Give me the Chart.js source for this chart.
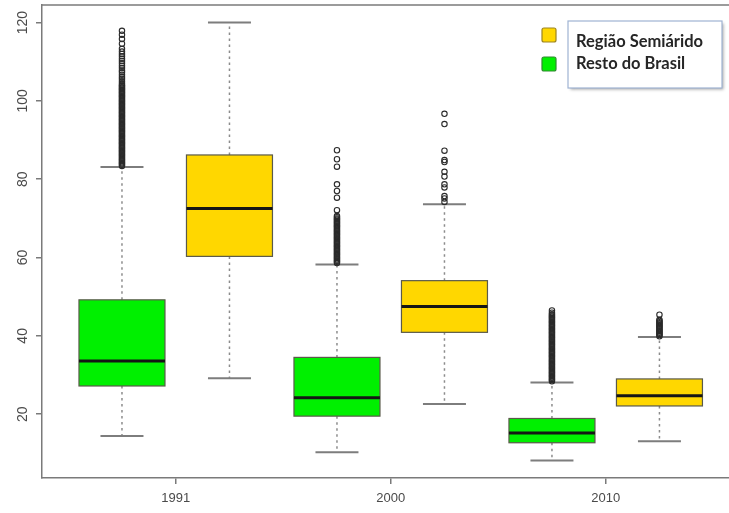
<!DOCTYPE html>
<html>
<head>
<meta charset="utf-8">
<title>Boxplot 1991 / 2000 / 2010</title>
<script src="https://cdn.jsdelivr.net/npm/chart.js@4/dist/chart.umd.min.js"></script>
<style>
  html, body { margin: 0; padding: 0; background: #ffffff; overflow: hidden; }
  #wrap { width: 729px; height: 513px; }
  canvas { display: block; }
</style>
</head>
<body>
<div id="wrap"><canvas id="c" width="729" height="513"></canvas></div>
<script>
// Census years shown on the x axis
const years = ['1991', '2000', '2010'];
const yTickValues = [20, 40, 60, 80, 100, 120];

// Região Semiárido: five-number summaries per year
const semiMin = [29.2, 22.6, 13.1];
const semiQ1  = [60.3, 40.9, 22.1];
const semiMed = [72.5, 47.5, 24.7];
const semiQ3  = [86.2, 54.1, 29.0];
const semiMax = [120.0, 73.6, 39.7];

// Resto do Brasil: five-number summaries per year
const restoMin = [14.4, 10.3, 8.2];
const restoQ1  = [27.2, 19.5, 12.7];
const restoMed = [33.6, 24.2, 15.2];
const restoQ3  = [49.2, 34.5, 18.9];
const restoMax = [83.1, 58.2, 28.1];

// Outliers beyond the upper whiskers
const semiOut1991 = [];
const semiOut2000 = [96.7, 94.1, 87.3, 84.9, 84.4, 81.9, 80.7, 78.7, 77.9, 75.7, 75.1, 74.2];
const semiOut2010 = [45.4, 44.1, 43.8, 43.5, 43.2, 42.9, 42.6, 42.3, 42.0, 41.7, 41.4,
  41.1, 40.8, 40.5, 40.2, 39.9];

const restoOut1991 = [117.9, 116.9, 115.8, 114.6, 113.3, 112.6, 112.0, 111.4, 110.8, 110.2,
  109.6, 109.0, 108.4, 107.8, 107.3, 106.7, 106.1, 105.6, 105.0, 104.5,
  104.1, 103.8, 103.5, 103.2, 102.9, 102.6, 102.3, 102.0, 101.7, 101.4, 101.1, 100.8,
  100.5, 100.2, 99.9, 99.6, 99.3, 99.0, 98.7, 98.4, 98.1, 97.8, 97.5, 97.2, 96.9, 96.6,
  96.3, 96.0, 95.7, 95.4, 95.1, 94.8, 94.5, 94.2, 93.9, 93.6, 93.3, 93.0, 92.7, 92.4,
  92.1, 91.8, 91.5, 91.2, 90.9, 90.6, 90.3, 90.0, 89.7, 89.4, 89.1, 88.8, 88.5, 88.2,
  87.9, 87.6, 87.3, 87.0, 86.7, 86.4, 86.1, 85.8, 85.5, 85.2, 84.9, 84.6, 84.3, 84.0,
  83.7, 83.4];
const restoOut2000 = [87.4, 85.1, 83.2, 78.7, 77.0, 75.3, 72.1, 70.6, 70.3, 70.0, 69.7,
  69.4, 69.1, 68.8, 68.5, 68.2, 67.9, 67.6, 67.3, 67.0, 66.7, 66.4, 66.1, 65.8, 65.5,
  65.2, 64.9, 64.6, 64.3, 64.0, 63.7, 63.4, 63.1, 62.8, 62.5, 62.2, 61.9, 61.6, 61.3,
  61.0, 60.7, 60.4, 60.1, 59.8, 59.5, 59.2, 58.9, 58.6];
const restoOut2010 = [46.5, 45.9, 45.5, 45.2, 44.9, 44.6, 44.3, 44.0, 43.7, 43.4, 43.1,
  42.8, 42.5, 42.2, 41.9, 41.6, 41.3, 41.0, 40.7, 40.4, 40.1, 39.8, 39.5, 39.2, 38.9,
  38.6, 38.3, 38.0, 37.7, 37.4, 37.1, 36.8, 36.5, 36.2, 35.9, 35.6, 35.3, 35.0, 34.7,
  34.4, 34.1, 33.8, 33.5, 33.2, 32.9, 32.6, 32.3, 32.0, 31.7, 31.4, 31.1, 30.8, 30.5,
  30.2, 29.9, 29.6, 29.3, 29.0, 28.7, 28.4];

const semiOut = [semiOut1991, semiOut2000, semiOut2010];
const restoOut = [restoOut1991, restoOut2000, restoOut2010];

const YELLOW = '#FFD700';
const GREEN = '#00F000';

// Each year holds two boxes: Resto do Brasil on the left, Semiárido on the right
const groups = [
  { name: 'Resto do Brasil', color: GREEN, offset: 1, min: restoMin, q1: restoQ1, med: restoMed, q3: restoQ3, max: restoMax, out: restoOut },
  { name: 'Região Semiárido', color: YELLOW, offset: 2, min: semiMin, q1: semiQ1, med: semiMed, q3: semiQ3, max: semiMax, out: semiOut }
];
const boxPos = (g, i) => 2 * i + g.offset;
const tickPos = years.map((_, i) => 2 * i + 1.5);

const BOX_W = 0.8;
const CAP_W = 0.4;

const outlierSets = groups.map(g => ({
  type: 'scatter',
  label: g.name,
  data: g.out.flatMap((arr, i) => arr.map(v => ({ x: boxPos(g, i), y: v }))),
  pointStyle: 'circle',
  pointRadius: 2.7,
  pointBorderWidth: 1.1,
  pointBorderColor: '#2a2a2a',
  pointBackgroundColor: 'rgba(0,0,0,0)',
  pointHoverRadius: 2.7
}));

// Boxes, whiskers and medians, placed through the chart scales
const boxPlugin = {
  id: 'boxes',
  beforeDatasetsDraw(chart) {
    const { ctx, scales: { x, y } } = chart;
    ctx.save();
    groups.forEach(g => {
      years.forEach((_, i) => {
        const c = boxPos(g, i);
        const xc = x.getPixelForValue(c);
        const xl = x.getPixelForValue(c - BOX_W / 2);
        const xr = x.getPixelForValue(c + BOX_W / 2);
        const cl = x.getPixelForValue(c - CAP_W / 2);
        const cr = x.getPixelForValue(c + CAP_W / 2);
        const yMin = y.getPixelForValue(g.min[i]);
        const yQ1 = y.getPixelForValue(g.q1[i]);
        const yMed = y.getPixelForValue(g.med[i]);
        const yQ3 = y.getPixelForValue(g.q3[i]);
        const yMax = y.getPixelForValue(g.max[i]);

        // dashed whiskers
        ctx.strokeStyle = '#8c8c8c';
        ctx.lineWidth = 1.5;
        ctx.setLineDash([2.5, 3.5]);
        ctx.beginPath();
        ctx.moveTo(xc, yQ3); ctx.lineTo(xc, yMax);
        ctx.moveTo(xc, yQ1); ctx.lineTo(xc, yMin);
        ctx.stroke();
        ctx.setLineDash([]);

        // whisker caps
        ctx.strokeStyle = '#7d7d7d';
        ctx.lineWidth = 2;
        ctx.beginPath();
        ctx.moveTo(cl, yMax); ctx.lineTo(cr, yMax);
        ctx.moveTo(cl, yMin); ctx.lineTo(cr, yMin);
        ctx.stroke();

        // box
        ctx.fillStyle = g.color;
        ctx.fillRect(xl, yQ3, xr - xl, yQ1 - yQ3);
        ctx.strokeStyle = '#5a5a4a';
        ctx.lineWidth = 1.2;
        ctx.strokeRect(xl, yQ3, xr - xl, yQ1 - yQ3);

        // median
        ctx.strokeStyle = '#151515';
        ctx.lineWidth = 3;
        ctx.beginPath();
        ctx.moveTo(xl, yMed); ctx.lineTo(xr, yMed);
        ctx.stroke();
      });
    });
    ctx.restore();
  },
  afterDraw(chart) {
    const { ctx, chartArea, scales: { y } } = chart;
    ctx.save();
    // top frame line
    ctx.strokeStyle = '#7a7a7a';
    ctx.lineWidth = 1.5;
    ctx.beginPath();
    ctx.moveTo(chartArea.left, chartArea.top);
    ctx.lineTo(chartArea.right, chartArea.top);
    ctx.stroke();

    // rotated y tick labels
    ctx.fillStyle = '#4a4a4a';
    ctx.font = '14px "Liberation Sans", Arial, sans-serif';
    ctx.textAlign = 'center';
    ctx.textBaseline = 'middle';
    yTickValues.forEach(v => {
      const py = y.getPixelForValue(v);
      ctx.save();
      ctx.translate(chartArea.left - 19, py);
      ctx.rotate(-Math.PI / 2);
      ctx.fillText(String(v), 0, 0);
      ctx.restore();
    });

    // legend
    const swatches = [groups[1], groups[0]];
    const sx = 542, sTop = [28, 57], sSize = 14;
    swatches.forEach((g, k) => {
      ctx.beginPath();
      ctx.roundRect(sx, sTop[k], sSize, sSize, 2);
      ctx.fillStyle = g.color;
      ctx.fill();
      ctx.strokeStyle = k === 0 ? '#9c8420' : '#2f8a2f';
      ctx.lineWidth = 1.2;
      ctx.stroke();
    });
    ctx.save();
    ctx.shadowColor = 'rgba(0,0,0,0.35)';
    ctx.shadowBlur = 3;
    ctx.shadowOffsetX = 1.5;
    ctx.shadowOffsetY = 1.5;
    ctx.fillStyle = '#ffffff';
    ctx.fillRect(568, 21, 154, 67);
    ctx.restore();
    ctx.strokeStyle = '#9fb3d3';
    ctx.lineWidth = 1.2;
    ctx.strokeRect(568, 21, 154, 67);
    ctx.fillStyle = '#262626';
    ctx.font = 'bold 16.5px Lato, "Open Sans", sans-serif';
    ctx.textAlign = 'left';
    ctx.textBaseline = 'middle';
    ctx.fillText(swatches[0].name, 576, 42);
    ctx.fillText(swatches[1].name, 576, 64);
    ctx.restore();
  }
};

new Chart(document.getElementById('c'), {
  type: 'scatter',
  data: { datasets: outlierSets },
  options: {
    responsive: false,
    animation: false,
    devicePixelRatio: 1,
    layout: { autoPadding: false, padding: { top: 5, right: 0, left: 0, bottom: 0 } },
    plugins: { legend: { display: false }, tooltip: { enabled: false } },
    scales: {
      x: {
        type: 'linear',
        min: 0.256,
        max: 6.647,
        afterBuildTicks(scale) { scale.ticks = tickPos.map(v => ({ value: v })); },
        afterFit(scale) {
          scale.height = 35;
          scale.paddingLeft = 0;
          scale.paddingRight = 0;
        },
        grid: { drawOnChartArea: false, drawTicks: true, tickLength: 6, tickColor: '#7a7a7a', lineWidth: 1.5 },
        border: { color: '#7a7a7a', width: 1.5 },
        ticks: {
          autoSkip: false,
          maxRotation: 0,
          padding: 7,
          color: '#4a4a4a',
          font: { family: '"Liberation Sans", Arial, sans-serif', size: 13 },
          callback: (v, i) => years[i]
        }
      },
      y: {
        type: 'linear',
        min: 3.7,
        max: 124.5,
        afterBuildTicks(scale) { scale.ticks = yTickValues.map(v => ({ value: v })); },
        afterFit(scale) {
          scale.width = 42;
          scale.paddingTop = 0;
          scale.paddingBottom = 0;
        },
        grid: { drawOnChartArea: false, drawTicks: true, tickLength: 6, tickColor: '#7a7a7a', lineWidth: 1.5 },
        border: { color: '#7a7a7a', width: 1.5 },
        ticks: { display: false }
      }
    }
  },
  plugins: [boxPlugin]
});
</script>
</body>
</html>
